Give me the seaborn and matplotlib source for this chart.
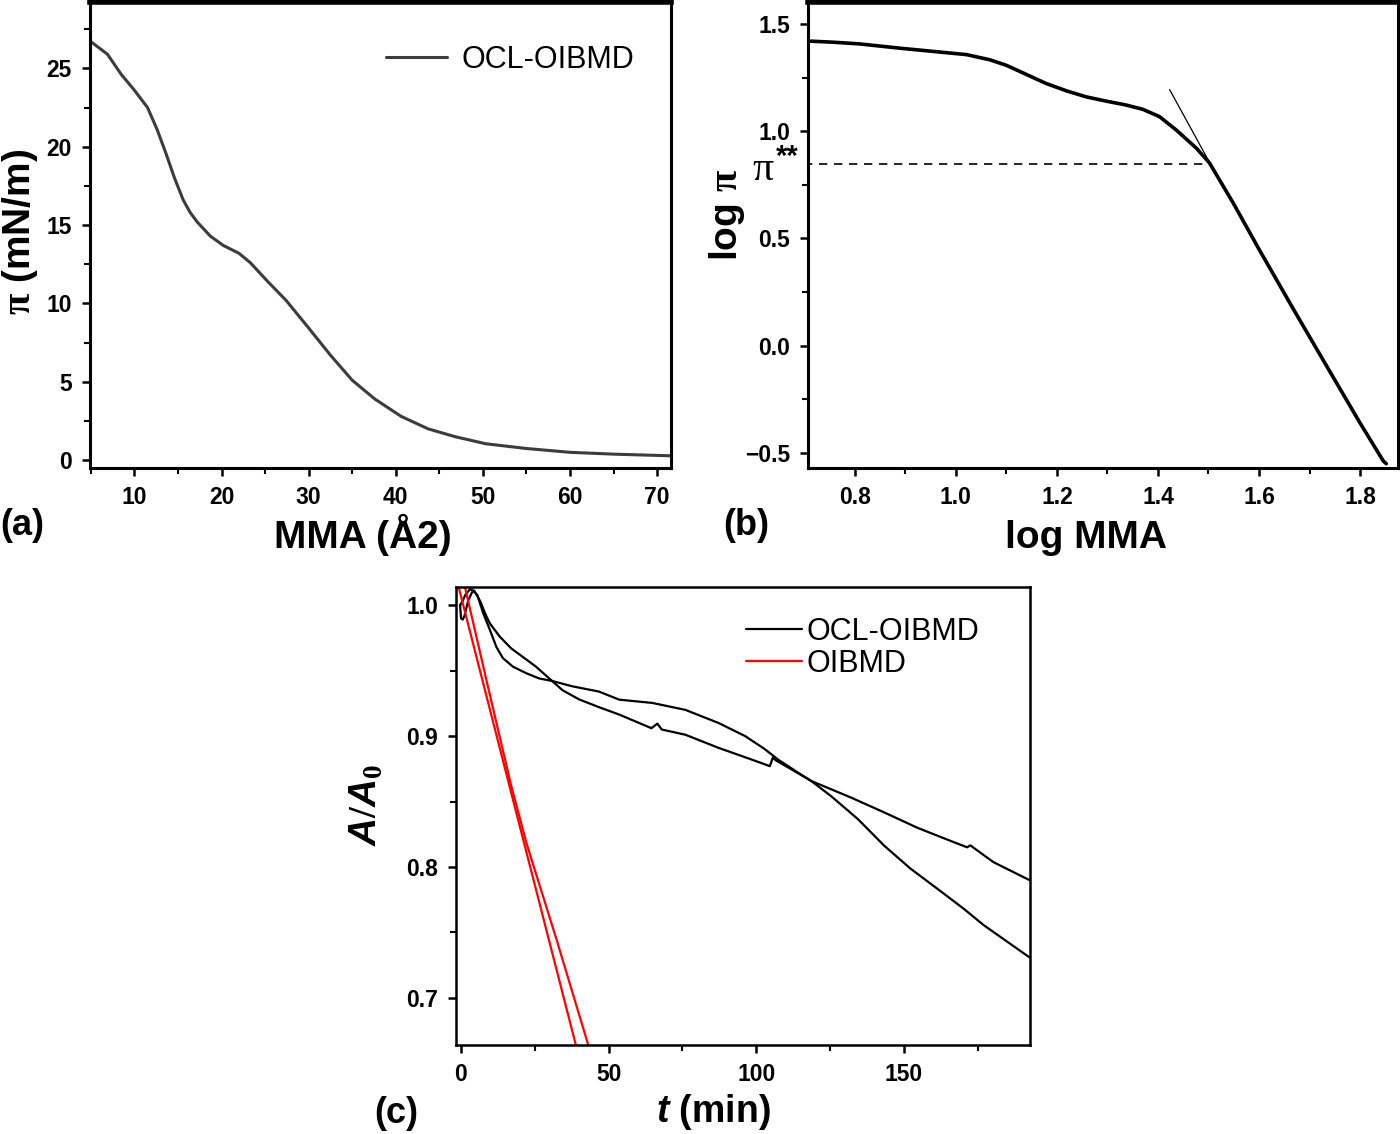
import matplotlib
matplotlib.use('Agg')
import matplotlib.pyplot as plt
from matplotlib.ticker import MultipleLocator
import seaborn as sns

# (a) surface pressure isotherm
mma_a = [5.0, 6.9, 8.5, 10.0, 11.5, 12.6, 13.6, 14.6, 15.6, 16.4, 17.2, 18.7, 20.2, 22.0, 23.3,
         25.3, 27.4, 29.9, 32.5, 35.0, 37.6, 40.6, 43.7, 46.8, 50.3, 54.9, 60.0, 65.2, 71.5]
pi_a = [26.7, 25.9, 24.6, 23.6, 22.5, 21.1, 19.6, 18.0, 16.6, 15.8, 15.2, 14.3, 13.7, 13.2, 12.6,
        11.4, 10.2, 8.5, 6.7, 5.1, 3.9, 2.8, 2.0, 1.5, 1.05, 0.75, 0.5, 0.38, 0.28]

# (b) log-log isotherm
log_mma = [0.710, 0.756, 0.809, 0.889, 0.968, 1.021, 1.067, 1.100, 1.139, 1.179, 1.219, 1.258,
           1.298, 1.337, 1.370, 1.403, 1.436, 1.476, 1.502, 1.549, 1.600, 1.667, 1.734, 1.800,
           1.846, 1.852]
log_pi = [1.420, 1.415, 1.407, 1.387, 1.369, 1.357, 1.333, 1.307, 1.265, 1.222, 1.188, 1.160,
          1.140, 1.122, 1.102, 1.068, 1.006, 0.921, 0.852, 0.665, 0.450, 0.175, -0.095, -0.360,
          -0.537, -0.550]
tangent_x = [1.423, 1.505]
tangent_y = [1.194, 0.842]
pi_star_x = [0.70, 1.504]
pi_star_y = [0.848, 0.848]

# (c) relaxation A/A0 vs time
t_ocl1 = [-0.3, 0.0, 0.6, 1.2, 2.5, 4.0, 5.5, 7.5, 9.8, 12.0, 14.2, 17.6, 22.1, 26.5, 31.0,
          37.7, 46.7, 53.6, 64.8, 76.0, 87.2, 96.2, 102.9, 107.4, 114.2, 118.6, 125.4, 134.4,
          143.3, 152.3, 161.3, 170.3, 177.0, 182.6, 192.5]
a_ocl1 = [1.000, 0.990, 0.989, 0.992, 1.004, 1.011, 1.008, 0.994, 0.981, 0.968, 0.9595, 0.953,
          0.948, 0.944, 0.942, 0.938, 0.934, 0.9278, 0.9253, 0.920, 0.910, 0.900, 0.890, 0.882,
          0.872, 0.8657, 0.854, 0.8366, 0.8163, 0.7986, 0.7834, 0.768, 0.7556, 0.7467, 0.731]
t_ocl2 = [-0.3, 0.5, 1.5, 3.0, 4.5, 6.5, 8.5, 9.8, 13.1, 17.0, 20.9, 25.4, 29.9, 34.4, 40.0,
          46.8, 53.6, 60.3, 64.5, 66.5, 68.0, 76.0, 87.2, 98.5, 104.6, 105.6, 106.6, 111.9,
          118.6, 132.1, 143.3, 154.5, 165.7, 171.4, 172.5, 180.3, 192.5]
a_ocl2 = [1.000, 1.003, 1.008, 1.012, 1.011, 1.003, 0.992, 0.986, 0.976, 0.967, 0.9605, 0.953,
          0.944, 0.935, 0.928, 0.922, 0.9164, 0.910, 0.906, 0.9095, 0.905, 0.901, 0.891, 0.882,
          0.877, 0.8835, 0.8815, 0.8746, 0.8657, 0.853, 0.8417, 0.830, 0.820, 0.815, 0.8165,
          0.8037, 0.790]
t_oib1 = [-1.5, 16.4, 38.9]
a_oib1 = [1.020, 0.862, 0.664]
t_oib2 = [0.7, 8.9, 17.0, 22.2, 32.3, 43.1]
a_oib2 = [1.020, 0.940, 0.862, 0.818, 0.745, 0.664]

sns.set_theme(style='ticks')
plt.rcParams['font.family'] = ['Liberation Sans', 'DejaVu Sans']
plt.rcParams['font.weight'] = 'bold'
plt.rcParams['text.color'] = 'black'
plt.rcParams['axes.labelcolor'] = 'black'
plt.rcParams['xtick.color'] = 'black'
plt.rcParams['ytick.color'] = 'black'
plt.rcParams['mathtext.fontset'] = 'custom'
plt.rcParams['mathtext.rm'] = 'Liberation Serif'
plt.rcParams['mathtext.it'] = 'Liberation Sans:italic:bold'
plt.rcParams['mathtext.bf'] = 'Liberation Sans:bold'

fig = plt.figure(figsize=(14, 11.34), dpi=100)
ax_a = fig.add_axes([0.0643, 0.5873, 0.415, 0.4105])
ax_b = fig.add_axes([0.5771, 0.5873, 0.4214, 0.4105])
ax_c = fig.add_axes([0.3257, 0.0785, 0.41, 0.4039])

tick_font = {'family': 'Liberation Sans', 'weight': 'bold', 'size': 16.5}


def style_axes(ax, lw, top_lw):
    for side, sp in ax.spines.items():
        sp.set_color('black')
        sp.set_linewidth(top_lw if side == 'top' else lw)
    ax.tick_params(which='major', direction='out', length=6, width=1.8, colors='black', pad=7)
    ax.tick_params(which='minor', direction='out', length=4, width=1.5, colors='black')
    ax.tick_params(top=False, right=False, which='both')
    for lab in ax.get_xticklabels() + ax.get_yticklabels():
        lab.set_fontproperties(tick_font)


legend_font = {'family': 'Liberation Sans', 'weight': 'normal', 'size': 22}

# panel (a)
sns.lineplot(x=mma_a, y=pi_a, ax=ax_a, color='#3c3c3c', linewidth=2.2, label='OCL-OIBMD')
ax_a.set_xlim(4.9, 71.6)
ax_a.set_ylim(-0.5, 29.2)
ax_a.xaxis.set_major_locator(MultipleLocator(10))
ax_a.xaxis.set_minor_locator(MultipleLocator(5))
ax_a.yaxis.set_major_locator(MultipleLocator(5))
ax_a.yaxis.set_minor_locator(MultipleLocator(2.5))
style_axes(ax_a, 2.2, 4.0)
ax_a.legend(loc='center left', bbox_to_anchor=(0.51, 0.877), frameon=False, prop=legend_font,
            handlelength=2.0, handletextpad=0.45, borderpad=0, borderaxespad=0)
ax_a.set_xlabel('MMA (Å2)', fontsize=28, fontweight='bold')
ax_a.xaxis.set_label_coords(0.47, -0.143)
ax_a.xaxis.label.set_va('center')
ax_a.set_ylabel(r'$\mathrm{\pi}$ (mN/m)', fontsize=28, fontweight='bold')
ax_a.yaxis.set_label_coords(-0.12, 0.506)
ax_a.yaxis.label.set_va('center')

# panel (b)
sns.lineplot(x=log_mma, y=log_pi, ax=ax_b, color='black', linewidth=2.6, sort=False)
ax_b.plot(tangent_x, tangent_y, color='black', linewidth=0.9)
ax_b.plot(pi_star_x, pi_star_y, color='black', linewidth=1.2, linestyle=(0, (5, 4)))
ax_b.set_xlim(0.707, 1.875)
ax_b.set_ylim(-0.57, 1.6)
ax_b.xaxis.set_major_locator(MultipleLocator(0.2))
ax_b.xaxis.set_minor_locator(MultipleLocator(0.1))
ax_b.yaxis.set_major_locator(MultipleLocator(0.5))
ax_b.yaxis.set_minor_locator(MultipleLocator(0.25))
style_axes(ax_b, 2.2, 4.0)
ax_b.text(-0.077, 0.618, 'π', transform=ax_b.transAxes, fontsize=30, fontweight='normal',
          family='Liberation Serif', ha='center', va='baseline', clip_on=False)
ax_b.text(-0.035, 0.668, '**', transform=ax_b.transAxes, fontsize=21, fontweight='bold',
          family='Liberation Sans', ha='center', va='center', clip_on=False)
ax_b.set_xlabel('log MMA', fontsize=28, fontweight='bold')
ax_b.xaxis.set_label_coords(0.471, -0.150)
ax_b.xaxis.label.set_va('center')
ax_b.set_ylabel(r'log $\mathrm{\pi}$', fontsize=28, fontweight='bold')
ax_b.yaxis.set_label_coords(-0.137, 0.543)
ax_b.yaxis.label.set_va('center')

# panel (c)
sns.lineplot(x=t_ocl1, y=a_ocl1, ax=ax_c, color='black', linewidth=1.6, sort=False,
             label='OCL-OIBMD')
sns.lineplot(x=t_ocl2, y=a_ocl2, ax=ax_c, color='black', linewidth=1.6, sort=False)
sns.lineplot(x=t_oib1, y=a_oib1, ax=ax_c, color='#ff0000', linewidth=1.6, sort=False,
             label='OIBMD')
sns.lineplot(x=t_oib2, y=a_oib2, ax=ax_c, color='#ff0000', linewidth=1.6, sort=False)
ax_c.set_xlim(-1.7, 192.7)
ax_c.set_ylim(0.664, 1.0139)
ax_c.xaxis.set_major_locator(MultipleLocator(50))
ax_c.xaxis.set_minor_locator(MultipleLocator(25))
ax_c.yaxis.set_major_locator(MultipleLocator(0.1))
ax_c.yaxis.set_minor_locator(MultipleLocator(0.05))
style_axes(ax_c, 1.8, 1.8)
ax_c.legend(loc='upper left', bbox_to_anchor=(0.505, 0.934), frameon=False, prop=legend_font,
            handlelength=1.85, handletextpad=0.15, labelspacing=0.05, borderpad=0,
            borderaxespad=0)
ax_c.set_xlabel(r'$t$ (min)', fontsize=27, fontweight='bold')
ax_c.xaxis.set_label_coords(0.449, -0.146)
ax_c.xaxis.label.set_va('center')
ax_c.set_ylabel(r'$A/A_{0}$', fontsize=28, fontweight='bold')
ax_c.yaxis.set_label_coords(-0.157, 0.524)
ax_c.yaxis.label.set_va('center')

# panel letters
fig.text(0.0157, 0.537, '(a)', fontsize=26, fontweight='bold', ha='center', va='center')
fig.text(0.533, 0.537, '(b)', fontsize=26, fontweight='bold', ha='center', va='center')
fig.text(0.283, 0.0185, '(c)', fontsize=26, fontweight='bold', ha='center', va='center')

fig.savefig('out.png', dpi=100, facecolor='white')
